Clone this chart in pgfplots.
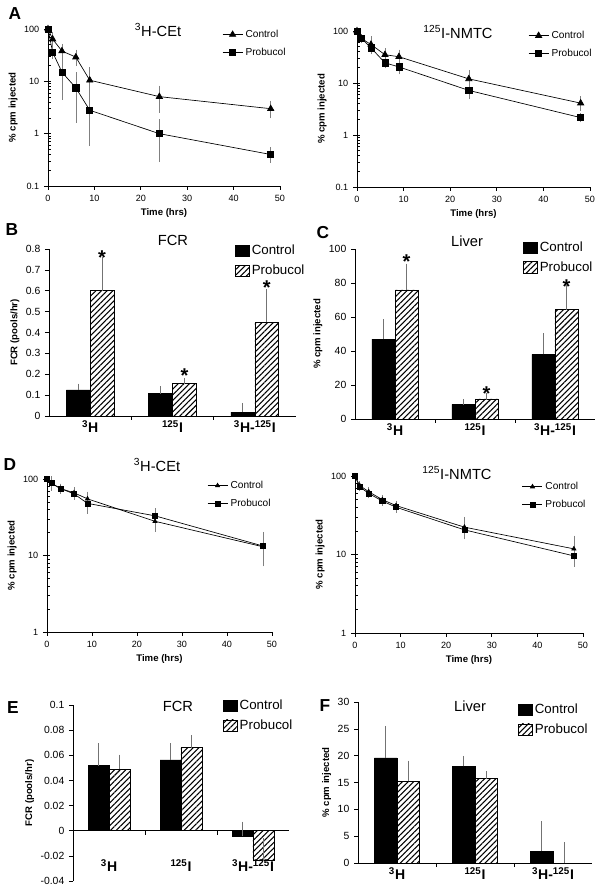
\documentclass[border=0pt]{standalone}
\usepackage{fontspec}
\setmainfont{Liberation Sans}
\usepackage{pgfplots}
\pgfplotsset{compat=1.18}
\usetikzlibrary{patterns.meta}
\newcommand{\fs}[1]{\fontsize{#1}{#1}\selectfont}
\pgfplotsset{
  myBase/.style={scale only axis, axis x line*=bottom, axis y line*=left,
    tick align=outside, major tick length=3pt, /pgf/number format/assume math mode=true,
    tick style={black, line width=0.5pt}, axis line style={line width=0.6pt},
    scaled y ticks=false},
  myLine/.style={myBase, xmin=0, xmax=50, xtick={0,10,...,50}, clip=false,
    ticklabel style={font=\fs{6.8}}, label style={font=\bfseries\fs{7.2}},
    xlabel={Time (hrs)}, ylabel={\% cpm injected},
    minor tick length=2pt, minor tick style={xshift=2pt},
    xlabel style={yshift=1pt}, ylabel style={yshift=-2pt},
    legend style={draw=none, fill=none, font=\fs{7.6}, inner sep=0pt, row sep=2.5pt, cells={anchor=west}},
    legend image code/.code={\draw[mark repeat=2,mark phase=2,##1] plot coordinates {(0pt,0pt) (7.5pt,0pt) (15pt,0pt)};}},
  myCtrl/.style={black, line width=0.5pt, mark=triangle*, mark size=2.7pt, mark options={fill=black, solid},
    error bars/y dir=both, error bars/y explicit,
    error bars/error bar style={black!50, line width=0.5pt},
    error bars/error mark options={black!50, mark size=2pt, line width=0.5pt}},
  myProb/.style={black, line width=0.5pt, mark=square*, mark size=2.3pt, mark options={fill=black, solid},
    error bars/y dir=both, error bars/y explicit,
    error bars/error bar style={black!50, line width=0.5pt},
    error bars/error mark options={black!50, mark size=2pt, line width=0.5pt}},
  myBar/.style={myBase, ybar, xmin=-0.5, xmax=2.5, bar width=0.29,
    xtick={0.5,1.5}, xticklabels={}, extra x ticks={0,1,2},
    extra x tick labels={\textsuperscript{3}H,\textsuperscript{125}I,\textsuperscript{3}H-\textsuperscript{125}I},
    extra x tick style={major tick length=0pt},
    xticklabel style={font=\bfseries\fs{10.5}},
    yticklabel style={font=\fs{7.8}}, ylabel style={font=\bfseries\fs{7.2}, yshift=-2pt},
    legend style={draw=none, fill=none, font=\fs{10}, inner sep=0pt, row sep=2pt, cells={anchor=west}},
    legend image code/.code={\draw[##1] (0pt,-4.2pt) rectangle (10pt,4.2pt);}},
  myCbar/.style={fill=black, draw=black, bar shift=-0.145,
    error bars/y dir=plus, error bars/y explicit,
    error bars/error bar style={black!55, line width=0.6pt},
    error bars/error mark options={black!55, mark size=2.3pt, line width=0.6pt}},
  myPbar/.style={draw=black, pattern={Lines[angle=45,distance=3pt,line width=0.8pt]}, bar shift=0.145,
    error bars/y dir=plus, error bars/y explicit,
    error bars/error bar style={black!55, line width=0.6pt},
    error bars/error mark options={black!55, mark size=2.3pt, line width=0.6pt}},
}
\begin{document}
\begin{tikzpicture}
\useasboundingbox (0,0) rectangle (452.25pt,667.5pt);

% ---------- A left
\begin{axis}[ymode=log, myLine, at={(36pt,528pt)}, anchor=south west, width=174pt, height=117.75pt,
  ymin=0.1, ymax=100, ytick={0.1,1,10,100}, yticklabels={0.1,1,10,100},
  legend style={at={(0.75,1.013)}, anchor=north west}]
\addplot[myCtrl] table[x=t, y=v, y error=e] {
t v e
0 100 0
1 64 15
3 38 8
6 29 7
9 10.5 6
24 5.1 2.3
48 3.0 0.8
};
\addplot[myProb] table[x=t, y=v, y error=e] {
t v e
0 100 0
1 36 6
3 15 10
6 7.5 5.7
9 2.8 2.15
24 1.0 0.68
48 0.40 0.09
};
\legend{Control, Probucol}
\end{axis}

% ---------- A right
\begin{axis}[ymode=log, myLine, at={(267.75pt,527.25pt)}, anchor=south west, width=174.75pt, height=117pt,
  ymin=0.1, ymax=100, ytick={0.1,1,10,100}, yticklabels={0.1,1,10,100},
  legend style={at={(0.734,1.019)}, anchor=north west}]
\addplot[myCtrl] table[x=t, y=v, y error=e] {
t v e
0 100 0
1 71 6
3 55 15
6 35 6
9 32 7
24 12 3.8
48 4.1 0.8
};
\addplot[myProb] table[x=t, y=v, y error=e] {
t v e
0 100 0
1 71 5
3 47.5 6
6 24.4 3
9 20.4 4
24 7.2 1.7
48 2.16 0.2
};
\legend{Control, Probucol}
\end{axis}

% ---------- B
\begin{axis}[myBar, at={(36.75pt,355.5pt)}, anchor=south west, width=185.25pt, height=125.25pt,
  ymin=0, ymax=0.8, ytick={0,0.1,...,0.8},
  yticklabel style={/pgf/number format/fixed, /pgf/number format/precision=1},
  ylabel={FCR (pools/hr)},
  legend style={at={(0.753,1.04)}, anchor=north west}]
\addplot[myCbar] table[x=c, y=v, y error=e] {
c v e
0 0.125 0.015
1 0.107 0.021
2 0.019 0.029
};
\addplot[myPbar] table[x=c, y=v, y error=e] {
c v e
0 0.60 0.145
1 0.155 0.013
2 0.449 0.144
};
\legend{Control, Probucol}
\node[font=\bfseries\fs{15}, yshift=-3pt] at (axis cs:0.145,0.78) {*};
\node[font=\bfseries\fs{15}, yshift=-3pt] at (axis cs:1.145,0.212) {*};
\node[font=\bfseries\fs{15}, yshift=-3pt] at (axis cs:2.145,0.633) {*};
\end{axis}

% ---------- C
\begin{axis}[myBar, at={(266.25pt,353.25pt)}, anchor=south west, width=180pt, height=127.5pt,
  ymin=0, ymax=100, ytick={0,20,...,100},
  ylabel={\% cpm injected},
  legend style={at={(0.70,1.06)}, anchor=north west}]
\addplot[myCbar] table[x=c, y=v, y error=e] {
c v e
0 47 10
1 8.6 1.2
2 38 10.5
};
\addplot[myPbar] table[x=c, y=v, y error=e] {
c v e
0 76 13.6
1 11.8 1.4
2 64.4 12.6
};
\legend{Control, Probucol}
\node[font=\bfseries\fs{15}, yshift=-3pt] at (axis cs:0.145,94.7) {*};
\node[font=\bfseries\fs{15}, yshift=-3pt] at (axis cs:1.145,17) {*};
\node[font=\bfseries\fs{15}, yshift=-3pt] at (axis cs:2.145,80.5) {*};
\end{axis}

% ---------- D left
\begin{axis}[ymode=log, myLine, at={(35.25pt,193.5pt)}, anchor=south west, width=168.75pt, height=114.75pt,
  ymin=1, ymax=100, ytick={1,10,100}, yticklabels={1,10,100},
  legend style={at={(0.711,1.006)}, anchor=north west}]
\addplot[myCtrl, mark size=1.8pt] table[x=t, y=v, y error=e] {
t v e
0 100 0
1 88 5
3 75 5
6 66 6
9 55 8
24 28 6
48 13 3
};
\addplot[myProb, mark size=1.9pt] table[x=t, y=v, y error=e] {
t v e
0 100 0
1 88 12
3 75 5
6 64 6
9 48 10
24 33 5
48 13.3 5.5
};
\legend{Control, Probucol}
\end{axis}

% ---------- D right
\begin{axis}[ymode=log, myLine, at={(266.25pt,192.75pt)}, anchor=south west, width=171pt, height=117.75pt,
  ymin=1, ymax=100, ytick={1,10,100}, yticklabels={1,10,100},
  legend style={at={(0.732,0.98)}, anchor=north west}]
\addplot[myCtrl, mark size=1.8pt] table[x=t, y=v, y error=e] {
t v e
0 100 0
1 76 4
3 63 4
6 50 3
9 42 3
24 22.3 5.5
48 11.8 4.3
};
\addplot[myProb, mark size=1.9pt] table[x=t, y=v, y error=e] {
t v e
0 100 0
1 73 4
3 60 4
6 48 3
9 40 3
24 20.6 3
48 9.6 1.5
};
\legend{Control, Probucol}
\end{axis}

% ---------- E
\begin{axis}[myBar, at={(54.75pt,6.75pt)}, anchor=south west, width=162pt, height=132pt,
  axis x line*=middle, tick align=outside,
  ymin=-0.04, ymax=0.1, ytick={-0.04,-0.02,0,0.02,0.04,0.06,0.08,0.1},
  yticklabels={-0.04,-0.02,0,0.02,0.04,0.06,0.08,0.1},
  xticklabel style={yshift=-18pt},
  ylabel={FCR (pools/hr)},
  legend style={at={(0.694,1.045)}, anchor=north west}]
\addplot[myCbar] table[x=c, y=v, y error=e] {
c v e
0 0.0517 0.0153
1 0.0564 0.0106
2 -0.0045 0.0093
};
\addplot[myPbar] table[x=c, y=v, y error=e] {
c v e
0 0.049 0.009
1 0.066 0.0076
2 -0.0238 0.0153
};
\legend{Control, Probucol}
\end{axis}

% ---------- F
\begin{axis}[myBar, at={(268.5pt,20.25pt)}, anchor=south west, width=175.5pt, height=120.75pt,
  ymin=0, ymax=30, ytick={0,5,...,30},
  ylabel={\% cpm injected},
  legend style={at={(0.684,1.006)}, anchor=north west}]
\addplot[myCbar] table[x=c, y=v, y error=e] {
c v e
0 19.6 5.4
1 18.0 1.4
2 2.2 5.0
};
\addplot[myPbar] table[x=c, y=v, y error=e] {
c v e
0 15.2 3.3
1 15.7 0.9
2 0 3.3
};
\legend{Control, Probucol}
\end{axis}

% ---------- titles
\node[font=\fs{11}] at (118.5pt,645pt) {\textsuperscript{3}H-CEt};
\node[font=\fs{11}] at (343.5pt,643.5pt) {\textsuperscript{125}I-NMTC};
\node[font=\fs{11}] at (129.75pt,487.5pt) {FCR};
\node[font=\fs{11}] at (350.25pt,486.75pt) {Liver};
\node[font=\fs{11}] at (117.75pt,318.75pt) {\textsuperscript{3}H-CEt};
\node[font=\fs{11}] at (342.75pt,312.75pt) {\textsuperscript{125}I-NMTC};
\node[font=\fs{11}] at (133.5pt,138pt) {FCR};
\node[font=\fs{11}] at (352.5pt,138pt) {Liver};
% ---------- panel letters
\node[font=\bfseries\fs{13}] at (11.25pt,657pt) {A};
\node[font=\bfseries\fs{13}] at (9pt,495pt) {B};
\node[font=\bfseries\fs{13}] at (242.25pt,492.75pt) {C};
\node[font=\bfseries\fs{13}] at (7.5pt,318.75pt) {D};
\node[font=\bfseries\fs{13}] at (9.75pt,136.5pt) {E};
\node[font=\bfseries\fs{13}] at (243.75pt,138pt) {F};
\end{tikzpicture}
\end{document}
